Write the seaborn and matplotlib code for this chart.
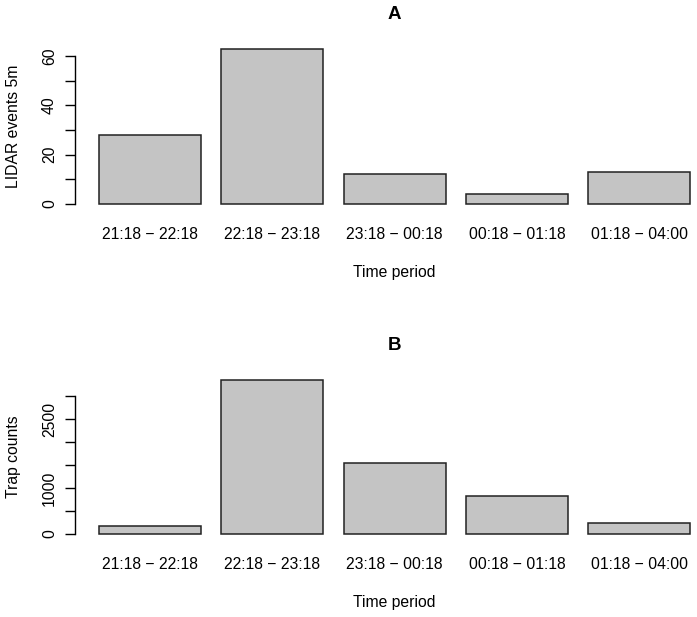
import matplotlib
matplotlib.use("Agg")
import matplotlib.pyplot as plt
import seaborn as sns

# data
periods = ["21:18 \u2212 22:18", "22:18 \u2212 23:18", "23:18 \u2212 00:18",
           "00:18 \u2212 01:18", "01:18 \u2212 04:00"]
lidar_events = [28, 63, 12, 4, 13]
trap_counts = [175, 3350, 1545, 825, 245]

lidar_ticks = [0, 10, 20, 30, 40, 50, 60]
lidar_ticklabels = ["0", "", "20", "", "40", "", "60"]
trap_ticks = [0, 500, 1000, 1500, 2000, 2500, 3000]
trap_ticklabels = ["0", "", "1000", "", "", "2500", ""]

sns.set_style("white")
plt.rcParams['font.family'] = ['Liberation Sans', 'DejaVu Sans']
plt.rcParams['text.color'] = 'black'
plt.rcParams['axes.labelcolor'] = 'black'
plt.rcParams['xtick.color'] = 'black'
plt.rcParams['ytick.color'] = 'black'

W, H = 697, 617
fig = plt.figure(figsize=(W / 100, H / 100), dpi=100)
FS = 11.3


def px_axes(left, top, right, bottom):
    return fig.add_axes([left / W, 1 - bottom / H, (right - left) / W, (bottom - top) / H])


def draw_panel(ax, values, ticks, ticklabels, ylim, title, ylabel):
    sns.barplot(x=periods, y=values, ax=ax, color="#c4c4c4", saturation=1,
                width=1 / 1.2, edgecolor="#222222", linewidth=1.1)
    ax.set_xlim(-0.61, 4.61)
    ax.set_ylim(*ylim)
    for s in ["top", "right", "bottom"]:
        ax.spines[s].set_visible(False)
    ax.spines["left"].set_bounds(ticks[0], ticks[-1])
    ax.spines["left"].set_color("black")
    ax.spines["left"].set_linewidth(1.0)
    ax.set_yticks(ticks)
    ax.set_yticklabels(ticklabels, rotation=90, va="center")
    ax.tick_params(axis="y", left=True, length=7.2, width=1.0, color="black",
                   pad=6, labelsize=FS, labelcolor="black")
    ax.tick_params(axis="x", length=0, pad=12, labelsize=FS, labelcolor="black")
    ax.set_xlabel("Time period", fontsize=FS, labelpad=16.5, color="black")
    ax.set_ylabel(ylabel, fontsize=FS, labelpad=15, color="black")
    ax.set_title(title, fontsize=13.5, fontweight="bold", pad=17, color="black")
    ax.grid(False)


ax1 = px_axes(75.3, 42.4, 714, 210.2)
draw_panel(ax1, lidar_events, lidar_ticks, lidar_ticklabels, (-2.52, 65.52),
           "A", "LIDAR events 5m")

ax2 = px_axes(75.3, 373.7, 714, 540.2)
draw_panel(ax2, trap_counts, trap_ticks, trap_ticklabels, (-134, 3484),
           "B", "Trap counts")

fig.savefig("out.png", dpi=100)
